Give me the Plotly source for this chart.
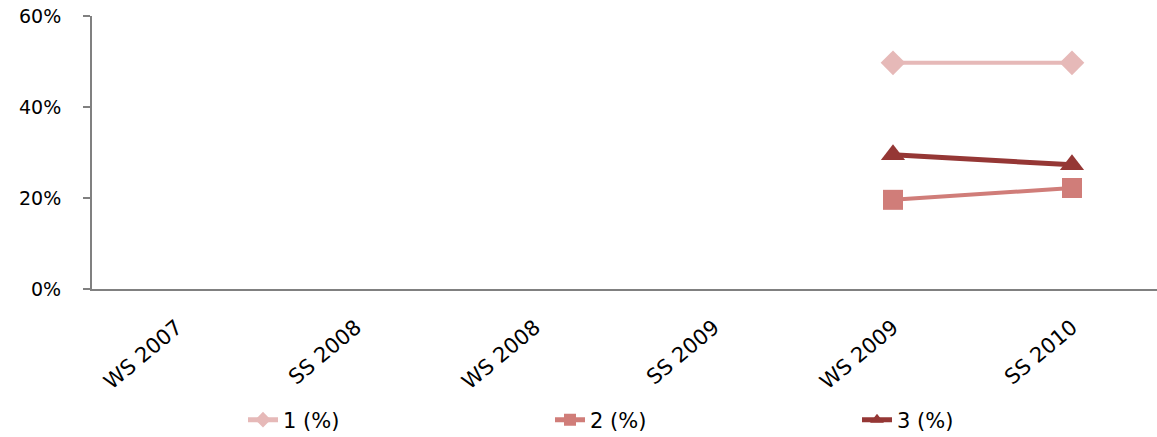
import plotly.graph_objects as go

categories = ["WS 2007", "SS 2008", "WS 2008", "SS 2009", "WS 2009", "SS 2010"]
s1 = [None, None, None, None, 49.7, 49.7]
s2 = [None, None, None, None, 19.6, 22.2]
s3 = [None, None, None, None, 29.5, 27.3]
names = ["1 (%)", "2 (%)", "3 (%)"]
colors = ["#E6B9B8", "#D07D79", "#953735"]
symbols = ["diamond", "square", "triangle-up"]
sizes = [19, 20, 21]
widths = [4, 4, 5]
legend_ids = ["legend", "legend2", "legend3"]
legend_x = [243, 550, 857]

W, H = 1157, 437

fig = go.Figure()
for vals, nm, c, sym, sz, w, lg in zip([s1, s2, s3], names, colors, symbols, sizes, widths, legend_ids):
    fig.add_trace(go.Scatter(
        x=categories, y=vals, name=nm, mode="lines+markers",
        line=dict(color=c, width=w),
        marker=dict(symbol=sym, size=sz, color=c),
        connectgaps=False, legend=lg,
    ))

leg_common = dict(
    orientation="h", xref="container", yref="container",
    y=1 - 420 / H, xanchor="left", yanchor="middle",
    font=dict(family="DejaVu Sans", size=21, color="#000000"),
    bgcolor="rgba(0,0,0,0)", itemsizing="constant",
)
fig.update_layout(
    width=W, height=H,
    margin=dict(l=92, r=0, t=16, b=148),
    paper_bgcolor="white", plot_bgcolor="white",
    font=dict(family="DejaVu Sans", size=15, color="#000000"),
    showlegend=True,
    legend=dict(x=legend_x[0] / W, **leg_common),
    legend2=dict(x=legend_x[1] / W, **leg_common),
    legend3=dict(x=legend_x[2] / W, **leg_common),
)
fig.update_xaxes(
    type="category", range=[-0.475, 5.475], automargin=False,
    showline=True, linecolor="#808080", linewidth=2,
    showgrid=False, ticks="", tickangle=-40,
    ticklabelstandoff=16,
    tickfont=dict(family="DejaVu Sans", size=21),
)
fig.update_yaxes(
    range=[0, 60], tickvals=[0, 20, 40, 60], ticktext=["0%", "20%", "40%", "60%"],
    automargin=False,
    showline=True, linecolor="#808080", linewidth=2,
    showgrid=False, zeroline=False, ticks="outside", ticklen=7,
    tickcolor="#808080", tickwidth=2, ticklabelstandoff=18,
    tickfont=dict(family="DejaVu Sans", size=19),
)

fig.write_html("out.html", post_script="document.body.style.margin='0';",
               config={"displayModeBar": False})
